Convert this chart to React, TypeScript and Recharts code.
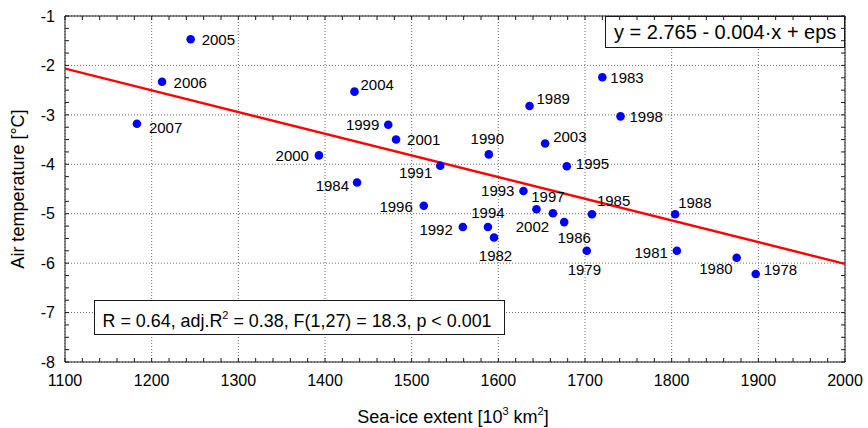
import React from 'react';
import {
  ScatterChart,
  Scatter,
  XAxis,
  YAxis,
  CartesianGrid,
  Customized,
  Label,
} from 'recharts';

// Yearly observations: sea-ice extent (10^3 km^2) vs. air temperature (°C)
const years = [
  1978, 1979, 1980, 1981, 1982, 1983, 1984, 1985, 1986, 1988,
  1989, 1990, 1991, 1992, 1993, 1994, 1995, 1996, 1997, 1998,
  1999, 2000, 2001, 2002, 2003, 2004, 2005, 2006, 2007,
];
const seaIce = [
  1897, 1702, 1875, 1806, 1595, 1720, 1437, 1708, 1676, 1804,
  1636, 1589, 1533, 1559, 1629, 1588, 1679, 1514, 1663, 1741,
  1473, 1393, 1482, 1644, 1654, 1434, 1245, 1212, 1183,
];
const airTemp = [
  -6.22, -5.75, -5.89, -5.75, -5.48, -2.24, -4.37, -5.01, -5.17, -5.01,
  -2.82, -3.8, -4.03, -5.27, -4.54, -5.27, -4.04, -4.84, -4.99, -3.03,
  -3.2, -3.82, -3.5, -4.91, -3.58, -2.53, -1.47, -2.33, -3.18,
];

const xTicks = [1100, 1200, 1300, 1400, 1500, 1600, 1700, 1800, 1900, 2000];
const yTicks = [-8, -7, -6, -5, -4, -3, -2, -1];

// Regression y = a + b·x
const INTERCEPT = 2.765;
const SLOPE = -0.00439;
const statsText = {
  lead: 'R = 0.64, adj.R',
  sup: '2',
  tail: ' = 0.38, F(1,27) = 18.3, p < 0.001',
};

// Label placement per year: [dx, dy to text middle, anchor]
const labelPlacement: Record<number, [number, number, 'start' | 'middle' | 'end']> = {
  1978: [8, -4, 'start'],
  1979: [-2.4, 18.6, 'middle'],
  1980: [-4, 11, 'end'],
  1981: [-9, 2, 'end'],
  1982: [1.5, 18, 'middle'],
  1983: [8, 0, 'start'],
  1984: [-8, 3, 'end'],
  1985: [5, -14, 'start'],
  1986: [10, 15, 'middle'],
  1988: [3, -12, 'start'],
  1989: [7, -7, 'start'],
  1990: [-1.5, -16, 'middle'],
  1991: [-8, 7, 'end'],
  1992: [-10, 3, 'end'],
  1993: [-9, 0, 'end'],
  1994: [0, -14, 'middle'],
  1995: [9, -3, 'start'],
  1996: [-11, 1, 'end'],
  1997: [-5, -16.6, 'middle'],
  1998: [9, 0, 'start'],
  1999: [-9, 0, 'end'],
  2000: [-10, 0, 'end'],
  2001: [11, 0, 'start'],
  2002: [-4, 17, 'middle'],
  2003: [8, -7, 'start'],
  2004: [6, -7, 'start'],
  2005: [11, 0, 'start'],
  2006: [11.5, 1, 'start'],
  2007: [12, 4, 'start'],
};

const FONT = '"Liberation Sans", Arial, Helvetica, sans-serif';
const FRAME = '#1a1a1a';

const W = 868;
const H = 428;
const MARGIN = { top: 16, right: 23, bottom: 0, left: 0 };
const Y_AXIS_W = 65;
const X_AXIS_H = 66;

const X_MIN = xTicks[0];
const X_MAX = xTicks[xTicks.length - 1];
const Y_MIN = yTicks[0];
const Y_MAX = yTicks[yTicks.length - 1];

const xMinorTicks: number[] = [];
for (let v = X_MIN; v <= X_MAX; v += 20) xMinorTicks.push(v);
const yMinorTicks: number[] = [];
for (let v = Y_MIN; v <= Y_MAX + 1e-9; v += 0.25) yMinorTicks.push(v);

const points = years.map((year, i) => ({ year, x: seaIce[i], y: airTemp[i] }));
const fitLine = [X_MIN, X_MAX].map((x) => ({ x, y: INTERCEPT + SLOPE * x }));

const equationText = `y = ${INTERCEPT.toFixed(3)} - ${Math.abs(SLOPE).toFixed(3)}·x + eps`;

const YearDot = (props: any) => {
  const { cx, cy, payload } = props;
  const [dx, dy, anchor] = labelPlacement[payload.year] || [10, 0, 'start'];
  return (
    <g>
      <circle cx={cx} cy={cy} r={4.3} fill="#0000ff" />
      <text
        x={cx + dx}
        y={cy + dy + 5.4}
        textAnchor={anchor}
        fontSize={15}
        fontFamily={FONT}
        fill="#000"
      >
        {payload.year}
      </text>
    </g>
  );
};

const NoDot = () => <g />;
const NoTickLabel = () => <g />;

const XTitle = (props: any) => {
  const vb = props.viewBox || { x: 0, y: 0, width: 0, height: 0 };
  return (
    <text
      x={vb.x + vb.width / 2 - 2}
      y={vb.y + 61}
      textAnchor="middle"
      fontSize={18}
      fontFamily={FONT}
      fill="#000"
    >
      Sea-ice extent [10
      <tspan fontSize={11} dy={-8}>3</tspan>
      <tspan dy={8}> km</tspan>
      <tspan fontSize={11} dy={-8}>2</tspan>
      <tspan dy={8}>]</tspan>
    </text>
  );
};

const YTitle = (props: any) => {
  const vb = props.viewBox || { x: 0, y: 0, width: 0, height: 0 };
  const cx = vb.x + 23.5;
  const cy = vb.y + vb.height / 2;
  return (
    <text
      x={cx}
      y={cy}
      transform={`rotate(-90, ${cx}, ${cy})`}
      textAnchor="middle"
      fontSize={18}
      fontFamily={FONT}
      fill="#000"
    >
      Air temperature [°C]
    </text>
  );
};

// Annotation boxes: regression equation and fit statistics
const Annotations = () => {
  const plotRight = W - MARGIN.right;
  const plotTop = MARGIN.top;
  const plotBottom = H - X_AXIS_H;
  return (
    <g fontFamily={FONT} fill="#000">
      <rect
        x={plotRight - 239.5}
        y={plotTop + 0.5}
        width={239}
        height={31}
        fill="#fff"
        stroke={FRAME}
        strokeWidth={1}
      />
      <text x={plotRight - 231} y={plotTop + 22.5} fontSize={20} fill="#000">
        {equationText}
      </text>
      <rect
        x={Y_AXIS_W + 29.5}
        y={plotBottom - 61.5}
        width={410}
        height={34}
        fill="#fff"
        stroke={FRAME}
        strokeWidth={1}
      />
      <text x={Y_AXIS_W + 37.5} y={plotBottom - 35} fontSize={17.9} fill="#000">
        {statsText.lead}
        <tspan fontSize={11} dy={-8}>{statsText.sup}</tspan>
        <tspan dy={8}>{statsText.tail}</tspan>
      </text>
    </g>
  );
};

const tickStyle = { fill: '#000', fontSize: 16, fontFamily: FONT };

export default function App() {
  return (
    <div style={{ width: W, height: H, background: '#fff' }}>
      <style>{'body{margin:0;background:#fff;}'}</style>
      <ScatterChart width={W} height={H} margin={MARGIN}>
        <CartesianGrid
          xAxisId={0}
          yAxisId={0}
          stroke="#6e6e6e"
          strokeDasharray="1 2"
          strokeWidth={1}
        />
        <XAxis
          xAxisId={0}
          type="number"
          dataKey="x"
          domain={[X_MIN, X_MAX]}
          ticks={xTicks}
          interval={0}
          allowDataOverflow
          height={X_AXIS_H}
          tickSize={0}
          tickMargin={13}
          tickLine={false}
          axisLine={{ stroke: FRAME, strokeWidth: 1 }}
          tick={tickStyle}
        >
          <Label content={<XTitle />} />
        </XAxis>
        <XAxis
          xAxisId="xMinorBottom"
          type="number"
          dataKey="x"
          orientation="bottom"
          mirror
          domain={[X_MIN, X_MAX]}
          ticks={xMinorTicks}
          interval={0}
          allowDataOverflow
          tickSize={4}
          tick={<NoTickLabel />}
          axisLine={false}
          tickLine={{ stroke: FRAME, strokeWidth: 1 }}
        />
        <XAxis
          xAxisId="xTop"
          type="number"
          dataKey="x"
          orientation="top"
          mirror
          domain={[X_MIN, X_MAX]}
          ticks={xMinorTicks}
          interval={0}
          allowDataOverflow
          tickSize={4}
          tick={<NoTickLabel />}
          axisLine={{ stroke: FRAME, strokeWidth: 1 }}
          tickLine={{ stroke: FRAME, strokeWidth: 1 }}
        />
        <YAxis
          yAxisId={0}
          type="number"
          dataKey="y"
          domain={[Y_MIN, Y_MAX]}
          ticks={yTicks}
          interval={0}
          allowDataOverflow
          width={Y_AXIS_W}
          tickSize={0}
          tickMargin={10}
          tickLine={false}
          axisLine={{ stroke: FRAME, strokeWidth: 1 }}
          tick={tickStyle}
        >
          <Label content={<YTitle />} />
        </YAxis>
        <YAxis
          yAxisId="yMinorLeft"
          type="number"
          dataKey="y"
          orientation="left"
          mirror
          domain={[Y_MIN, Y_MAX]}
          ticks={yMinorTicks}
          interval={0}
          allowDataOverflow
          tickSize={4}
          tick={<NoTickLabel />}
          axisLine={false}
          tickLine={{ stroke: FRAME, strokeWidth: 1 }}
        />
        <YAxis
          yAxisId="yRight"
          type="number"
          dataKey="y"
          orientation="right"
          mirror
          domain={[Y_MIN, Y_MAX]}
          ticks={yMinorTicks}
          interval={0}
          allowDataOverflow
          tickSize={4}
          tick={<NoTickLabel />}
          axisLine={{ stroke: FRAME, strokeWidth: 1 }}
          tickLine={{ stroke: FRAME, strokeWidth: 1 }}
        />
        <Scatter
          xAxisId={0}
          yAxisId={0}
          data={fitLine}
          line={{ stroke: '#ff0000', strokeWidth: 2.4 }}
          shape={<NoDot />}
          legendType="none"
          isAnimationActive={false}
        />
        <Scatter
          xAxisId={0}
          yAxisId={0}
          data={points}
          shape={<YearDot />}
          legendType="none"
          isAnimationActive={false}
        />
        <Customized component={<Annotations />} />
      </ScatterChart>
    </div>
  );
}
